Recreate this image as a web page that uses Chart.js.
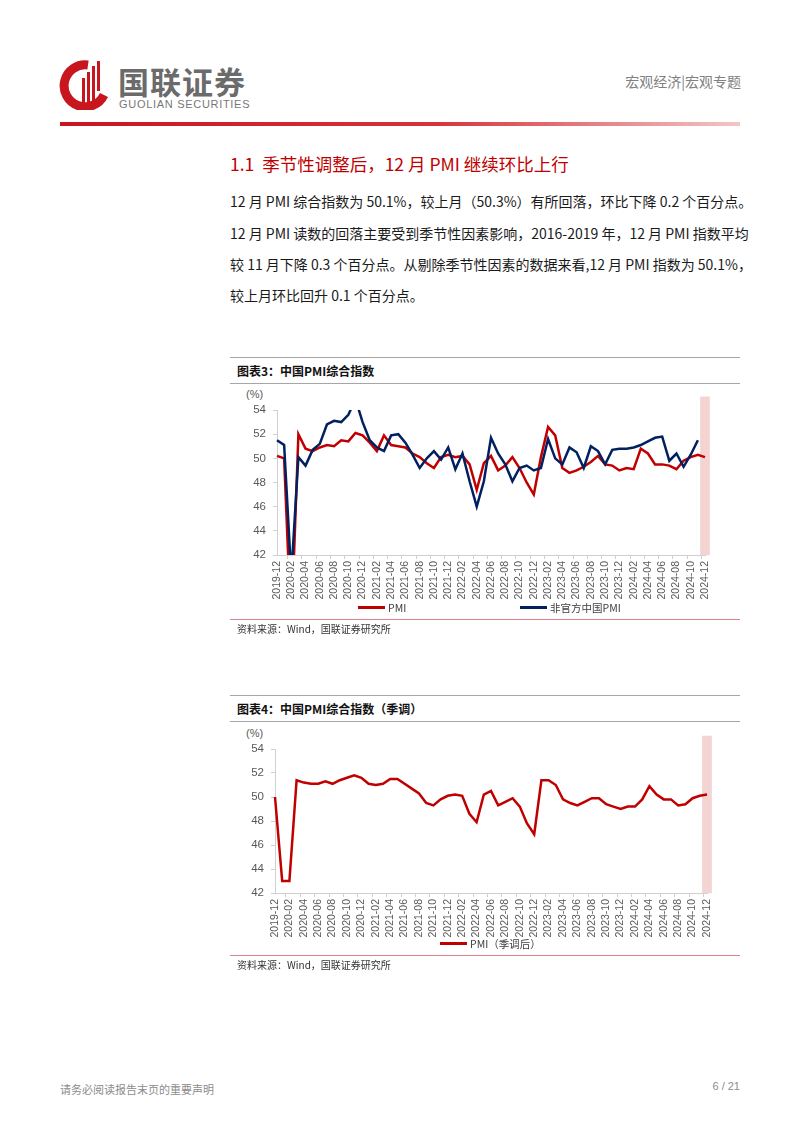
<!DOCTYPE html>
<html lang="zh-CN">
<head>
<meta charset="utf-8">
<script src="https://cdn.jsdelivr.net/npm/chart.js@4.4.1/dist/chart.umd.min.js"></script>
<style>
  body { margin: 0; background: #fff; }
  #pagina { position: relative; width: 802px; height: 1133px; overflow: hidden; font-family: "Noto Sans CJK SC", sans-serif; color: #222; }
  .abs { position: absolute; white-space: nowrap; }
  .linea { position: absolute; height: 1px; }
  .parrafo { position: absolute; left: 230px; font-size: 14px; line-height: 20px; text-align: justify; text-align-last: justify; white-space: nowrap; color: #1a1a1a; }
  .titulo-graf { position: absolute; left: 237px; font-size: 12px; font-weight: bold; color: #111; }
  .fuente { position: absolute; left: 237px; font-size: 10px; color: #333; }
  .unidad { position: absolute; font-size: 11px; color: #595959; font-family: "Liberation Sans", "Noto Sans CJK SC", sans-serif; }
  .leyenda-item { position: absolute; font-size: 10.5px; color: #404040; display: flex; align-items: center; }
  .leyenda-item span.sw { display: inline-block; width: 27px; height: 3px; margin-right: 3px; }
  canvas { position: absolute; }
</style>
</head>
<body>
<div id="pagina">
  <!-- cabecera -->
  <svg class="abs" style="left:58px;top:58px" width="52" height="52" viewBox="0 0 52 52">
    <path d="M30 7 A21 21 0 1 0 46 37" stroke="#c8161e" stroke-width="9" fill="none"/>
    <rect x="24" y="20" width="3" height="25" fill="#c8161e"/>
    <rect x="29" y="14" width="3" height="31" fill="#c8161e"/>
    <rect x="34" y="8" width="3" height="37" fill="#c8161e"/>
    <rect x="39" y="3" width="3" height="30" fill="#c8161e"/>
  </svg>
  <div class="abs" style="left:118px;top:65px;font-size:31px;line-height:1;font-weight:bold;color:#6b6b6b;letter-spacing:1px">国联证券</div>
  <div class="abs" style="left:119px;top:99px;font-size:11px;line-height:1;color:#777;letter-spacing:0.7px;font-family:'Liberation Sans',sans-serif">GUOLIAN SECURITIES</div>
  <div class="abs" style="right:61px;top:71px;font-size:14px;color:#808080">宏观经济|宏观专题</div>
  <div class="abs" style="left:60px;top:122px;width:680px;height:4px;background:linear-gradient(to right,#c8161e 0%,#d6333a 55%,#f3c6c6 100%)"></div>

  <!-- texto -->
  <div class="abs" style="left:230px;top:151px;font-size:17.5px;color:#c00000;font-weight:400">1.1&nbsp; 季节性调整后，12 月 PMI 继续环比上行</div>
  <div class="parrafo" style="top:191px;width:488px">12 月 PMI 综合指数为 50.1%，较上月（50.3%）有所回落，环比下降 0.2 个百分点。</div>
  <div class="parrafo" style="top:223px;width:488px">12 月 PMI 读数的回落主要受到季节性因素影响，2016-2019 年，12 月 PMI 指数平均</div>
  <div class="parrafo" style="top:254px;width:483px">较 11 月下降 0.3 个百分点。从剔除季节性因素的数据来看,12 月 PMI 指数为 50.1%，</div>
  <div class="parrafo" style="top:285px;text-align-last:left">较上月环比回升 0.1 个百分点。</div>

  <!-- grafico 3 -->
  <div class="linea" style="left:230px;top:357px;width:510px;background:#a6a6a6"></div>
  <div class="titulo-graf" style="top:362px">图表3：中国PMI综合指数</div>
  <div class="linea" style="left:230px;top:383px;width:510px;background:#a6a6a6"></div>
  <div class="unidad" style="left:246px;top:388px">(%)</div>
  <canvas id="graf3" width="500" height="225" style="left:230px;top:390px"></canvas>
  <div id="leyenda3"></div>
  <div class="linea" style="left:230px;top:619px;width:510px;background:#e07f89"></div>
  <div class="fuente" style="top:621px">资料来源：Wind，国联证券研究所</div>

  <!-- grafico 4 -->
  <div class="linea" style="left:230px;top:695px;width:510px;background:#a6a6a6"></div>
  <div class="titulo-graf" style="top:700px">图表4：中国PMI综合指数（季调）</div>
  <div class="linea" style="left:230px;top:721px;width:510px;background:#a6a6a6"></div>
  <div class="unidad" style="left:246px;top:727px">(%)</div>
  <canvas id="graf4" width="500" height="225" style="left:230px;top:728px"></canvas>
  <div id="leyenda4"></div>
  <div class="linea" style="left:230px;top:955px;width:510px;background:#e07f89"></div>
  <div class="fuente" style="top:957px">资料来源：Wind，国联证券研究所</div>

  <!-- pie -->
  <div class="abs" style="left:60px;top:1081px;font-size:11px;color:#8c8c8c">请务必阅读报告末页的重要声明</div>
  <div class="abs" style="right:62px;top:1080px;font-size:11px;color:#8c8c8c;font-family:'Liberation Sans',sans-serif">6 / 21</div>
</div>

<script>
// --- datos ---
const meses = [
  '2019-12',
  '2020-01','2020-02','2020-03','2020-04','2020-05','2020-06','2020-07','2020-08','2020-09','2020-10','2020-11','2020-12',
  '2021-01','2021-02','2021-03','2021-04','2021-05','2021-06','2021-07','2021-08','2021-09','2021-10','2021-11','2021-12',
  '2022-01','2022-02','2022-03','2022-04','2022-05','2022-06','2022-07','2022-08','2022-09','2022-10','2022-11','2022-12',
  '2023-01','2023-02','2023-03','2023-04','2023-05','2023-06','2023-07','2023-08','2023-09','2023-10','2023-11','2023-12',
  '2024-01','2024-02','2024-03','2024-04','2024-05','2024-06','2024-07','2024-08','2024-09','2024-10','2024-11','2024-12'
];

// PMI (oficial)
const pmiOficial = [
  50.2,
  50.0, 35.7, 52.0, 50.8, 50.6, 50.9, 51.1, 51.0, 51.5, 51.4, 52.1, 51.9,
  51.3, 50.6, 51.9, 51.1, 51.0, 50.9, 50.4, 50.1, 49.6, 49.2, 50.1, 50.3,
  50.1, 50.2, 49.5, 47.4, 49.6, 50.2, 49.0, 49.4, 50.1, 49.2, 48.0, 47.0,
  50.1, 52.6, 51.9, 49.2, 48.8, 49.0, 49.3, 49.7, 50.2, 49.5, 49.4, 49.0,
  49.2, 49.1, 50.8, 50.4, 49.5, 49.5, 49.4, 49.1, 49.8, 50.1, 50.3, 50.1
];

// 非官方中国PMI (hasta 2024-11)
const pmiNoOficial = [
  51.5,
  51.1, 40.3, 50.1, 49.4, 50.7, 51.2, 52.8, 53.1, 53.0, 53.6, 54.9, 53.0,
  51.5, 50.9, 50.6, 51.9, 52.0, 51.3, 50.3, 49.2, 50.0, 50.6, 49.9, 50.9,
  49.1, 50.4, 48.1, 46.0, 48.1, 51.7, 50.4, 49.5, 48.1, 49.2, 49.4, 49.0,
  49.2, 51.6, 50.0, 49.5, 50.9, 50.5, 49.2, 51.0, 50.6, 49.5, 50.7, 50.8,
  50.8, 50.9, 51.1, 51.4, 51.7, 51.8, 49.8, 50.4, 49.3, 50.3, 51.5
];

// PMI（季调后）
const pmiDesest = [
  50.0,
  43.0, 43.0, 51.4, 51.2, 51.1, 51.1, 51.3, 51.1, 51.4, 51.6, 51.8, 51.6,
  51.1, 51.0, 51.1, 51.5, 51.5, 51.1, 50.7, 50.3, 49.5, 49.3, 49.8, 50.1,
  50.2, 50.1, 48.6, 47.9, 50.2, 50.5, 49.3, 49.6, 49.9, 49.2, 47.8, 46.9,
  51.4, 51.4, 51.0, 49.8, 49.5, 49.3, 49.6, 49.9, 49.9, 49.4, 49.2, 49.0,
  49.2, 49.2, 49.8, 50.9, 50.2, 49.8, 49.8, 49.3, 49.4, 49.9, 50.1, 50.2
];

const ejeYMin = 42;
const ejeYMax = 54;
const ejeYPaso = 2;

// franja sombreada sobre el ultimo mes (eje auxiliar 0..1)
const franja = meses.map((m, i) => i === meses.length - 1 ? 1.09 : null);

const ROJO = '#c00000';
const AZUL = '#002060';
const GRIS_TXT = '#595959';
const GRIS_EJE = '#d0d0d0';

function serieLinea(label, data, color, orden) {
  return {
    type: 'line',
    label: label,
    data: data,
    borderColor: color,
    backgroundColor: color,
    borderWidth: 2.5,
    pointRadius: 0,
    tension: 0,
    order: orden,
    clip: { left: 4, right: 4, top: 0, bottom: 0 }
  };
}

function crearGrafico(idCanvas, series, ancho) {
  const ctx = document.getElementById(idCanvas).getContext('2d');
  return new Chart(ctx, {
    type: 'line',
    data: {
      labels: meses,
      datasets: series.concat([{
        type: 'bar',
        label: 'franja',
        data: franja,
        yAxisID: 'yFranja',
        backgroundColor: '#f4d3d3',
        barThickness: 9,
        clip: false,
        order: 10
      }])
    },
    options: {
      responsive: false,
      animation: false,
      devicePixelRatio: 1,
      layout: { padding: { left: 0, right: ancho.derecha, top: ancho.arriba, bottom: 5 } },
      plugins: { legend: { display: false }, tooltip: { enabled: false } },
      scales: {
        x: {
          type: 'category',
          offset: false,
          border: { display: true, color: GRIS_EJE },
          grid: {
            drawOnChartArea: false,
            drawTicks: true,
            tickLength: 4,
            color: c => (c.index % 2 === 0 ? GRIS_EJE : 'rgba(0,0,0,0)')
          },
          ticks: {
            autoSkip: false,
            maxRotation: 90,
            minRotation: 90,
            padding: 2,
            color: GRIS_TXT,
            font: { family: 'Liberation Sans', size: 10.5 },
            callback: function (v, i) { return i % 2 === 0 ? this.getLabelForValue(v) : ''; }
          },
          afterFit: s => { s.height = 55; }
        },
        y: {
          min: ejeYMin,
          max: ejeYMax,
          border: { display: true, color: GRIS_EJE },
          grid: { drawOnChartArea: false, drawTicks: true, tickLength: 4, color: GRIS_EJE },
          ticks: {
            stepSize: ejeYPaso,
            padding: 7,
            color: GRIS_TXT,
            font: { family: 'Liberation Sans', size: 11.5 }
          },
          afterFit: s => { s.width = ancho.izquierda; }
        },
        yFranja: { display: false, min: 0, max: 1 }
      }
    }
  });
}

// leyenda en HTML a partir de los datasets
function crearLeyenda(idCont, grafico, posiciones) {
  const cont = document.getElementById(idCont);
  grafico.data.datasets.filter(d => d.type === 'line').forEach((d, i) => {
    const item = document.createElement('div');
    item.className = 'leyenda-item';
    item.style.left = posiciones[i].x + 'px';
    item.style.top = posiciones[i].y + 'px';
    item.innerHTML = '<span class="sw" style="background:' + d.borderColor + '"></span>' + d.label;
    cont.appendChild(item);
  });
}

document.addEventListener('DOMContentLoaded', () => {
  const g3 = crearGrafico('graf3', [
    serieLinea('PMI', pmiOficial, ROJO, 1),
    serieLinea('非官方中国PMI', pmiNoOficial, AZUL, 0)
  ], { izquierda: 47, derecha: 25, arriba: 20 });
  crearLeyenda('leyenda3', g3, [{ x: 358, y: 600 }, { x: 520, y: 600 }]);

  const g4 = crearGrafico('graf4', [
    serieLinea('PMI（季调后）', pmiDesest, ROJO, 0)
  ], { izquierda: 45, derecha: 23, arriba: 21 });
  crearLeyenda('leyenda4', g4, [{ x: 440, y: 936 }]);
});
</script>
</body>
</html>
